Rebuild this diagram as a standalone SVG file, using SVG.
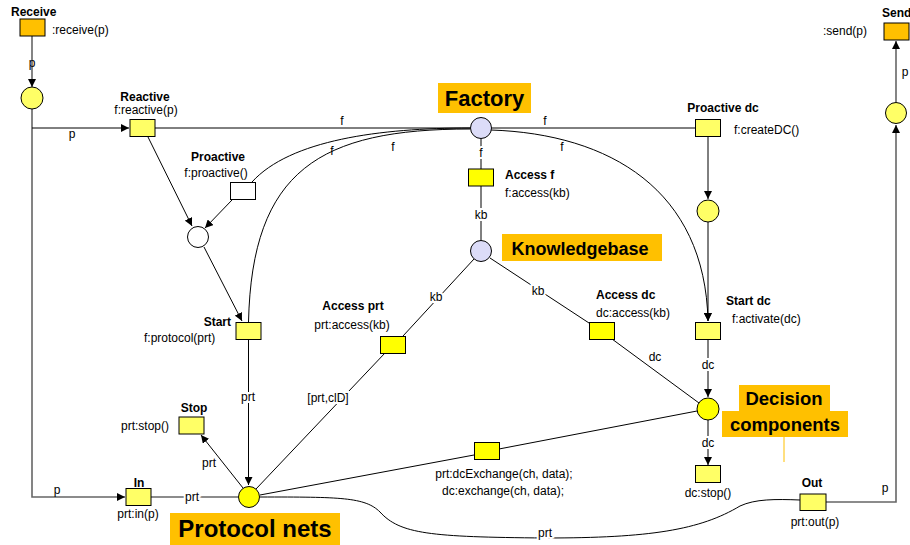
<svg xmlns="http://www.w3.org/2000/svg" width="910" height="545" viewBox="0 0 910 545">
<defs>
<style>
text{font-family:"Liberation Sans",Arial,sans-serif;font-size:12px;fill:#000}
.b{font-weight:bold}
.m{text-anchor:middle}
.e{text-anchor:end}
.big{font-weight:bold;font-size:22px}
.lbl{fill:#ffc000}
.tr{fill:#ffff66;stroke:#000;stroke-width:1}
.ta{fill:#ffff00;stroke:#000;stroke-width:1}
.to{fill:#ffc000;stroke:#000;stroke-width:1}
.tw{fill:#fff;stroke:#000;stroke-width:1}
.p{stroke:#000;stroke-width:1}
.py{fill:#ffff66}
.pY{fill:#ffff00}
.pl{fill:#dcdcf8}
.pw{fill:#fff}
.c{fill:none;stroke:#000;stroke-width:1}
.g{fill:none;stroke:#666;stroke-width:1.6}
.halo{stroke:#fff;stroke-width:4;paint-order:stroke}
</style>
<marker id="ar" markerWidth="9" markerHeight="8" refX="8" refY="4" orient="auto" markerUnits="userSpaceOnUse">
<path d="M0,0 L8,4 L0,8 z" fill="#000"/>
</marker>
</defs>
<rect width="910" height="545" fill="#fff"/>

<g id="connectors">
<path class="g" d="M32,36 L32,87" marker-end="url(#ar)"/>
<path class="g" d="M32,109 L32,497 L125,497" marker-end="url(#ar)"/>
<path class="c" d="M32,128 L129,128" marker-end="url(#ar)"/>
<path class="c" d="M155,128 L470.5,128"/>
<path class="c" d="M491.5,128 L696,128"/>
<path class="c" d="M708,137 L708,199" marker-end="url(#ar)"/>
<path class="c" d="M708,222 L708,321" marker-end="url(#ar)"/>
<path class="c" d="M491,130 C610,134 705,190 708,321" marker-end="url(#ar)"/>
<path class="c" d="M708,339 L708,397" marker-end="url(#ar)"/>
<path class="c" d="M708,420 L708,465" marker-end="url(#ar)"/>
<path class="c" d="M481,139 L481,169"/>
<path class="c" d="M481,186 L481,240"/>
<path class="c" d="M474,259 L403,336"/>
<path class="c" d="M385,353 L256,489"/>
<path class="c" d="M490,258 L589,323"/>
<path class="c" d="M612,339 L699,403"/>
<path class="c" d="M260,495 L474,455"/>
<path class="c" d="M499,449 L697,411"/>
<path class="c" d="M243,488 L201,435" marker-end="url(#ar)"/>
<path class="c" d="M248.5,339 L248.5,485" marker-end="url(#ar)"/>
<path class="g" d="M151,497 L238,497"/>
<path class="c" d="M260,497 C340,497 365,497 380,512 C400,534 430,537 545,538 C650,538 700,530 740,506 C755,499 775,499 800,500"/>
<path class="g" d="M826,502 L896,502 L896,125" marker-end="url(#ar)"/>
<path class="g" d="M896,102 L896,41" marker-end="url(#ar)"/>
<path class="c" d="M148,137 L192,226" marker-end="url(#ar)"/>
<path class="c" d="M232,200 L205,228" marker-end="url(#ar)"/>
<path class="c" d="M204,247 L242,321" marker-end="url(#ar)"/>
<path class="c" d="M470,128 C380,128 290,140 252,182"/>
<path class="c" d="M470,129 C320,129 252,170 248.5,322"/>
<text class="m" x="32" y="67">p</text>
<text class="m" x="72" y="138">p</text>
<text class="m" x="342" y="125">f</text>
<text class="m" x="545" y="125">f</text>
<text class="m" x="332" y="155">f</text>
<text class="m" x="393" y="151">f</text>
<text class="m" x="562" y="151">f</text>
<text class="m halo" x="481" y="157">f</text>
<text class="m halo" x="481" y="219">kb</text>
<text class="m halo" x="436" y="301">kb</text>
<text class="m halo" x="538" y="295">kb</text>
<text class="m" x="655" y="361">dc</text>
<text class="m halo" x="708" y="369">dc</text>
<text class="m halo" x="708" y="447">dc</text>
<text class="m halo" x="248" y="401">prt</text>
<text class="m halo" x="328" y="402">[prt,clD]</text>
<text class="m halo" x="209" y="467">prt</text>
<text class="m halo" x="192" y="501">prt</text>
<text class="m" x="57" y="494">p</text>
<text class="m halo" x="545" y="537">prt</text>
<text class="m" x="885" y="492">p</text>
<text class="m" x="905" y="76">p</text>
</g>

<g id="receive">
<rect class="to" x="20" y="19" width="25" height="17"/>
<text class="b" x="11" y="16">Receive</text>
<text x="52" y="34">:receive(p)</text>
</g>
<g id="receive-place"><circle class="p py" cx="32" cy="98" r="11"/></g>

<g id="reactive">
<rect class="tr" x="130" y="119.5" width="25" height="17"/>
<text class="b m" x="145" y="101">Reactive</text>
<text class="m" x="146" y="114">f:reactive(p)</text>
</g>

<g id="proactive">
<rect class="tw" x="230.5" y="182.5" width="25" height="17"/>
<text class="b m" x="218" y="161">Proactive</text>
<text class="m" x="216" y="177">f:proactive()</text>
</g>
<g id="choice-place"><circle class="p pw" cx="198" cy="237" r="10.5"/></g>

<g id="factory">
<rect class="lbl" x="438" y="83" width="93" height="30"/>
<text class="big m" x="484.5" y="106">Factory</text>
<circle class="p pl" cx="481" cy="128" r="10.5"/>
</g>

<g id="proactive-dc">
<rect class="tr" x="695.5" y="119.5" width="25" height="17"/>
<text class="b m" x="723" y="112">Proactive dc</text>
<text x="734" y="134">f:createDC()</text>
</g>
<g id="dc-place"><circle class="p py" cx="708" cy="211" r="11"/></g>

<g id="access-f">
<rect class="ta" x="468.5" y="169" width="25" height="17"/>
<text class="b" x="505" y="179">Access f</text>
<text x="505" y="197">f:access(kb)</text>
</g>

<g id="knowledgebase">
<rect class="lbl" x="502" y="234" width="160" height="27"/>
<text class="b m" x="580" y="255" style="font-size:18px">Knowledgebase</text>
<circle class="p pl" cx="481" cy="251" r="10.5"/>
</g>

<g id="access-prt">
<rect class="ta" x="380.5" y="336.5" width="25" height="17"/>
<text class="b m" x="353" y="310">Access prt</text>
<text class="m" x="352" y="329">prt:access(kb)</text>
</g>

<g id="access-dc">
<rect class="ta" x="589.5" y="322.5" width="25" height="17"/>
<text class="b" x="596" y="299">Access dc</text>
<text x="596" y="317">dc:access(kb)</text>
</g>

<g id="start-dc">
<rect class="tr" x="695.5" y="322.5" width="25" height="17"/>
<text class="b" x="726" y="305">Start dc</text>
<text x="732" y="323">f:activate(dc)</text>
</g>

<g id="decision-components">
<rect class="lbl" x="739" y="385" width="91" height="26"/>
<rect class="lbl" x="722" y="411" width="126" height="26"/>
<line x1="784" y1="437" x2="784" y2="462" stroke="#ffc000" stroke-width="1"/>
<text class="b m" x="784" y="405" style="font-size:18.5px">Decision</text>
<text class="b m" x="785" y="431" style="font-size:18.5px">components</text>
<circle class="p pY" cx="708" cy="409" r="11"/>
</g>

<g id="dc-stop">
<rect class="tr" x="695.5" y="465.5" width="25" height="17"/>
<text class="m" x="708" y="497">dc:stop()</text>
</g>

<g id="exchange">
<rect class="ta" x="474.5" y="442.5" width="25" height="17"/>
<text class="m" x="504" y="478">prt:dcExchange(ch, data);</text>
<text class="m" x="503" y="495">dc:exchange(ch, data);</text>
</g>

<g id="start">
<rect class="tr" x="236" y="322.5" width="25" height="17"/>
<text class="b e" x="231" y="326">Start</text>
<text x="144" y="342">f:protocol(prt)</text>
</g>

<g id="stop">
<rect class="tr" x="179" y="417" width="25" height="17"/>
<text class="b m" x="194" y="412">Stop</text>
<text x="121" y="430">prt:stop()</text>
</g>

<g id="in">
<rect class="tr" x="126" y="488.5" width="25" height="17"/>
<text class="b m" x="139" y="487">In</text>
<text class="m" x="138" y="518">prt:in(p)</text>
</g>

<g id="protocol-nets">
<rect class="lbl" x="170" y="513" width="170" height="32"/>
<text class="m b" x="255" y="537" style="font-size:24px">Protocol nets</text>
<circle class="p pY" cx="249" cy="497" r="10.5"/>
</g>

<g id="out">
<rect class="tr" x="800" y="494" width="26" height="16.5"/>
<text class="b m" x="812" y="487">Out</text>
<text class="m" x="815" y="526">prt:out(p)</text>
</g>

<g id="send-place"><circle class="p py" cx="896" cy="113" r="10.5"/></g>
<g id="send">
<rect class="to" x="884" y="23" width="25" height="17"/>
<text class="b" x="882" y="17">Send</text>
<text x="823" y="35">:send(p)</text>
</g>
</svg>
